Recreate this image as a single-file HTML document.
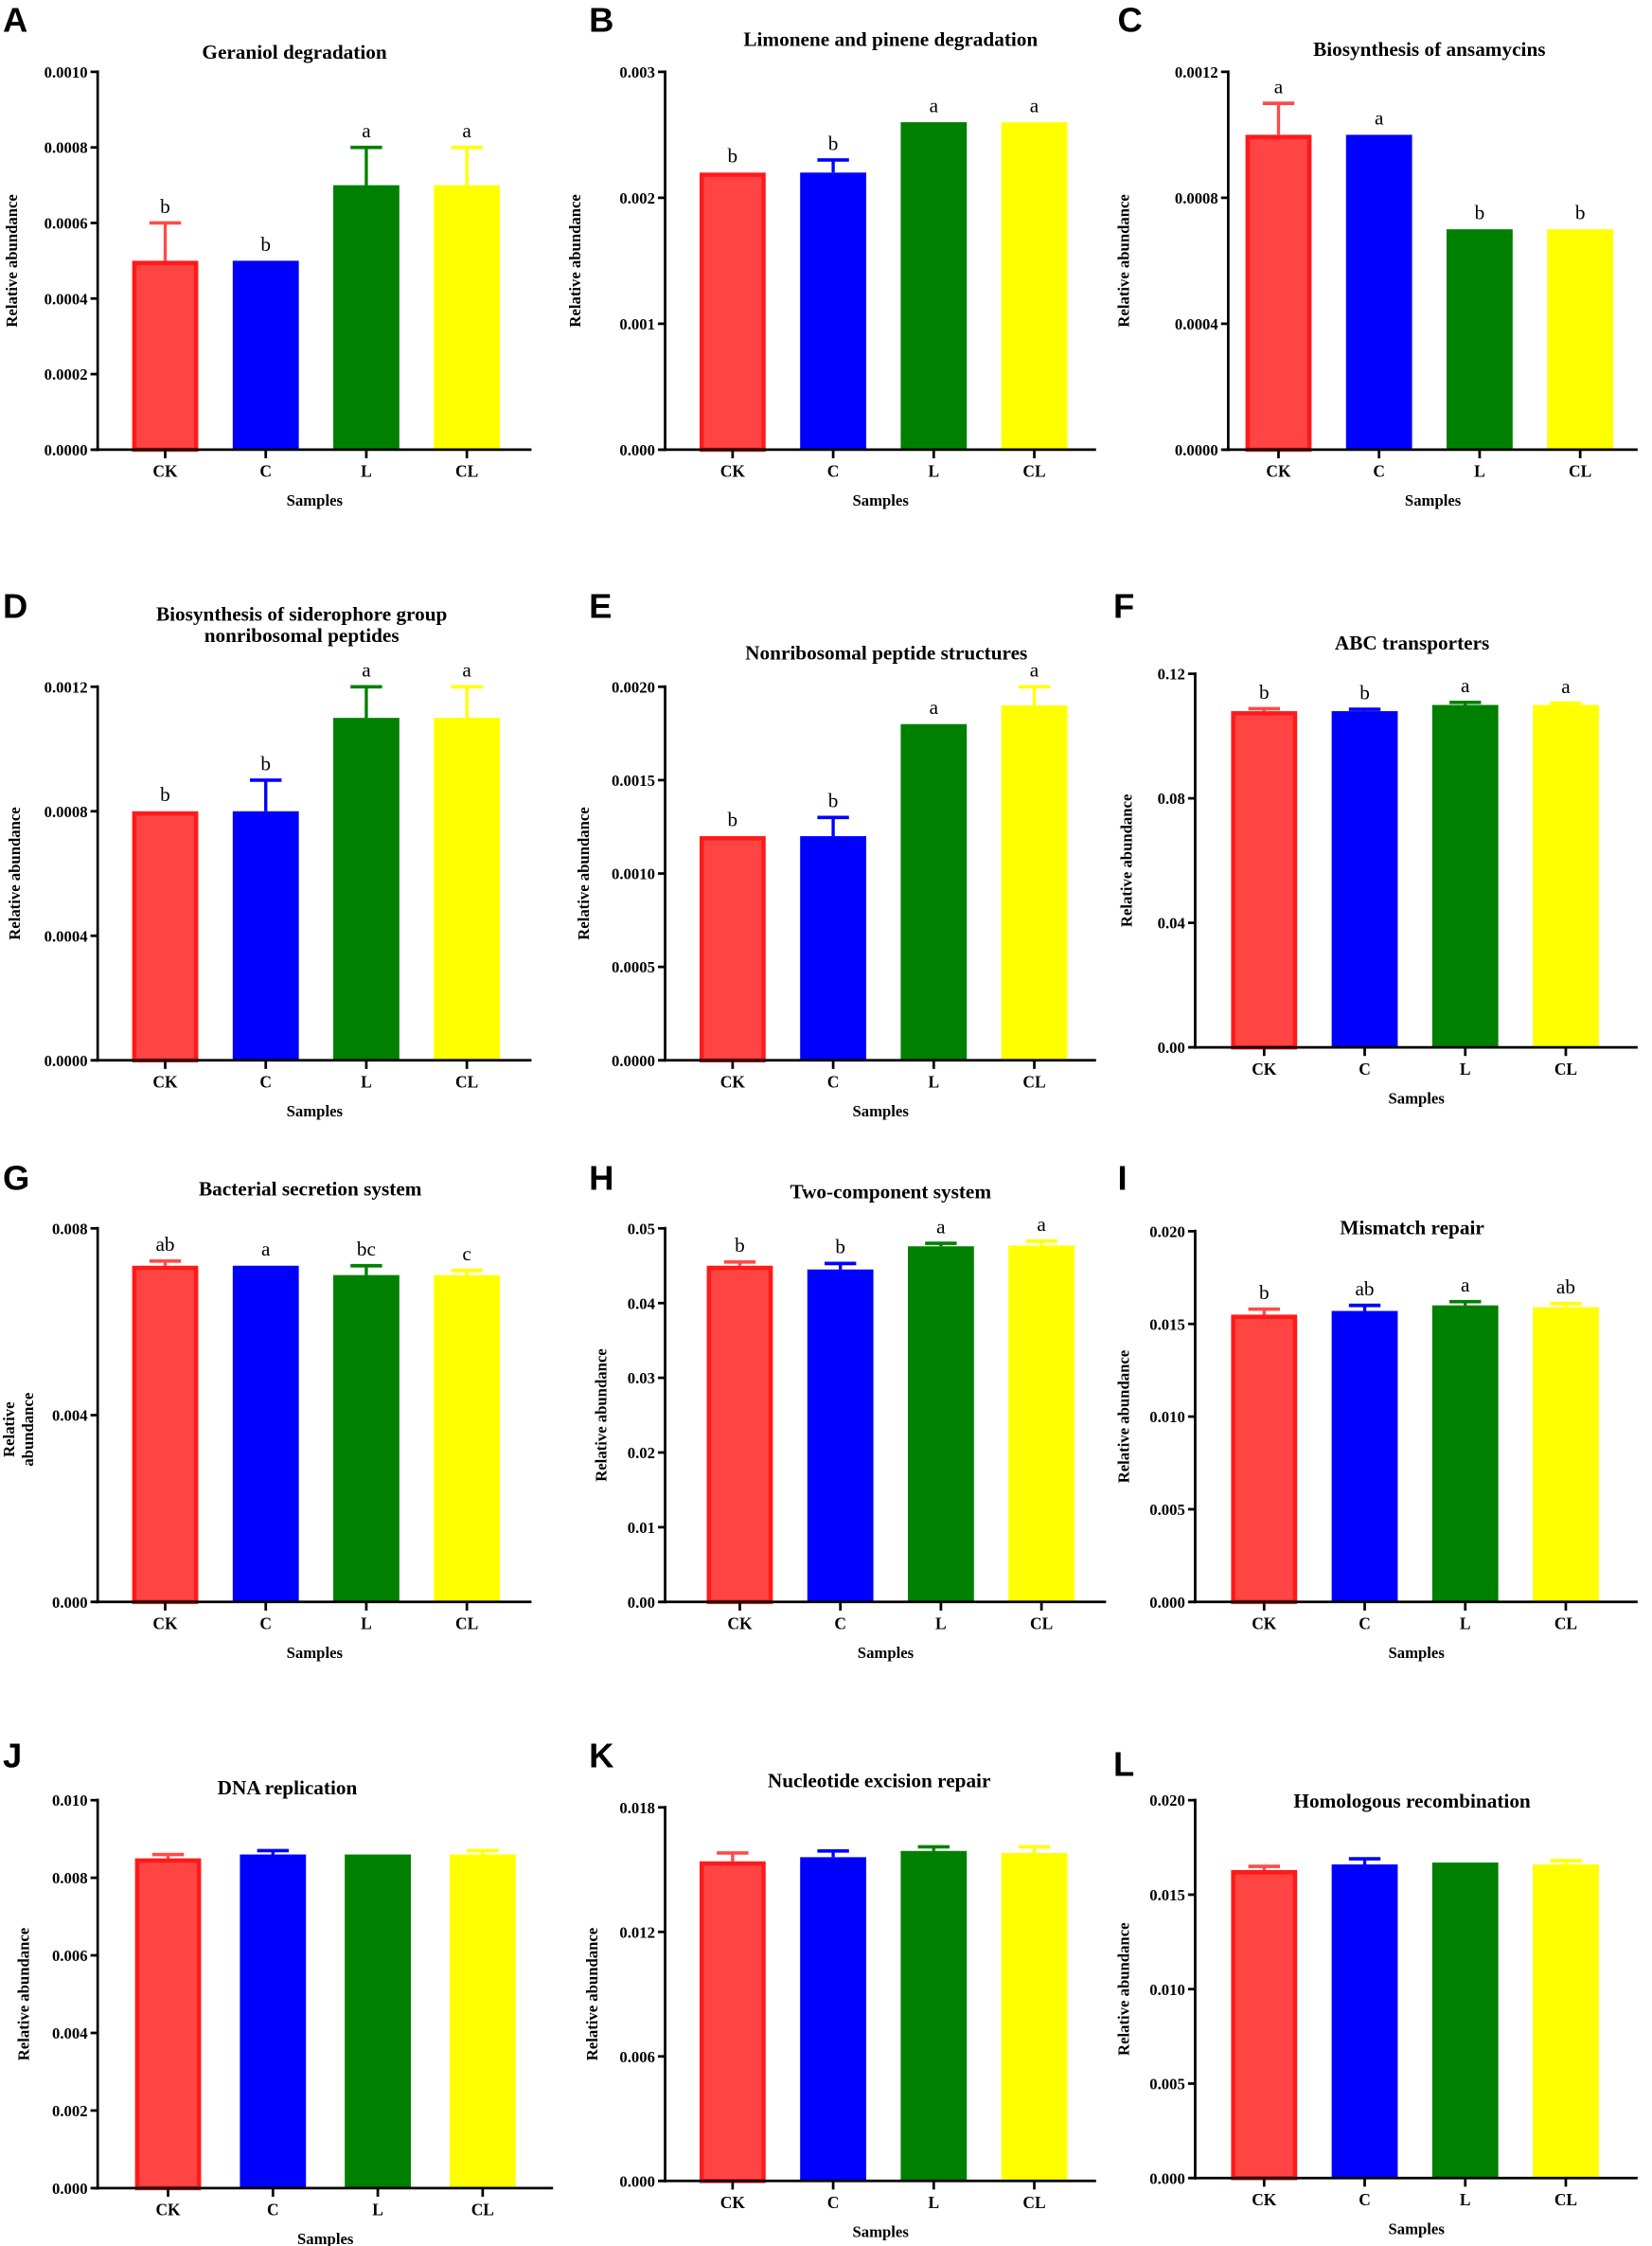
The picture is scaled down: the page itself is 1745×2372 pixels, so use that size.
<!DOCTYPE html>
<html><head><meta charset="utf-8"><style>
html,body{margin:0;padding:0;background:#fff}
svg{display:block}
text{font-family:"Liberation Serif",serif;font-weight:bold;fill:#000}
.letter{font-family:"Liberation Sans",sans-serif;font-size:24px}
</style></head><body>
<svg id="fig" width="1745" height="2372" viewBox="0 0 1150 1563.3" preserveAspectRatio="none" xmlns="http://www.w3.org/2000/svg"></svg>
<script>
const categories = ["CK","C","L","CL"];
const colors = ["#ff4444","#0000ff","#008000","#ffff00"];
const errColors = ["#ff4a4a","#0000ff","#008000","#ffff00"];

const valuesA=[0.0005,0.0005,0.0007,0.0007]; const errorsA=[0.0001,0,0.0001,0.0001]; const lettersA=["b","b","a","a"];
const ticksA=[0,0.0002,0.0004,0.0006,0.0008,0.0010]; const tickLabelsA=["0.0000","0.0002","0.0004","0.0006","0.0008","0.0010"];
const valuesB=[0.0022,0.0022,0.0026,0.0026]; const errorsB=[0,0.0001,0,0]; const lettersB=["b","b","a","a"];
const ticksB=[0,0.001,0.002,0.003]; const tickLabelsB=["0.000","0.001","0.002","0.003"];
const valuesC=[0.0010,0.0010,0.0007,0.0007]; const errorsC=[0.0001,0,0,0]; const lettersC=["a","a","b","b"];
const ticksC=[0,0.0004,0.0008,0.0012]; const tickLabelsC=["0.0000","0.0004","0.0008","0.0012"];
const valuesD=[0.0008,0.0008,0.0011,0.0011]; const errorsD=[0,0.0001,0.0001,0.0001]; const lettersD=["b","b","a","a"];
const ticksD=[0,0.0004,0.0008,0.0012]; const tickLabelsD=["0.0000","0.0004","0.0008","0.0012"];
const valuesE=[0.0012,0.0012,0.0018,0.0019]; const errorsE=[0,0.0001,0,0.0001]; const lettersE=["b","b","a","a"];
const ticksE=[0,0.0005,0.0010,0.0015,0.0020]; const tickLabelsE=["0.0000","0.0005","0.0010","0.0015","0.0020"];
const valuesF=[0.108,0.108,0.110,0.110]; const errorsF=[0.0008,0.0006,0.0008,0.0006]; const lettersF=["b","b","a","a"];
const ticksF=[0,0.04,0.08,0.12]; const tickLabelsF=["0.00","0.04","0.08","0.12"];
const valuesG=[0.0072,0.0072,0.0070,0.0070]; const errorsG=[0.0001,0,0.0002,0.0001]; const lettersG=["ab","a","bc","c"];
const ticksG=[0,0.004,0.008]; const tickLabelsG=["0.000","0.004","0.008"];
const valuesH=[0.045,0.0445,0.0476,0.0477]; const errorsH=[0.0005,0.0008,0.0004,0.0006]; const lettersH=["b","b","a","a"];
const ticksH=[0,0.01,0.02,0.03,0.04,0.05]; const tickLabelsH=["0.00","0.01","0.02","0.03","0.04","0.05"];
const valuesI=[0.0155,0.0157,0.0160,0.0159]; const errorsI=[0.0003,0.0003,0.0002,0.0002]; const lettersI=["b","ab","a","ab"];
const ticksI=[0,0.005,0.010,0.015,0.020]; const tickLabelsI=["0.000","0.005","0.010","0.015","0.020"];
const valuesJ=[0.0085,0.0086,0.0086,0.0086]; const errorsJ=[0.0001,0.0001,0,0.0001]; const lettersJ=["","","",""];
const ticksJ=[0,0.002,0.004,0.006,0.008,0.010]; const tickLabelsJ=["0.000","0.002","0.004","0.006","0.008","0.010"];
const valuesK=[0.0154,0.0156,0.0159,0.0158]; const errorsK=[0.0004,0.0003,0.0002,0.0003]; const lettersK=["","","",""];
const ticksK=[0,0.006,0.012,0.018]; const tickLabelsK=["0.000","0.006","0.012","0.018"];
const valuesL=[0.0163,0.0166,0.0167,0.0166]; const errorsL=[0.0002,0.0003,0,0.0002]; const lettersL=["","","",""];
const ticksL=[0,0.005,0.010,0.015,0.020]; const tickLabelsL=["0.000","0.005","0.010","0.015","0.020"];

// layout (positions only)
const panels = [
 {id:"A",lx:2,ly:22,title:["Geraniol degradation"],tx:205,ty:41,ax:68,top:50,bot:313,xend:370,x0:115,step:70,ylx:12,v:valuesA,e:errorsA,l:lettersA,t:ticksA,tl:tickLabelsA},
 {id:"B",lx:410,ly:22,title:["Limonene and pinene degradation"],tx:620,ty:32,ax:463,top:50,bot:313,xend:763,x0:510,step:70,ylx:404,v:valuesB,e:errorsB,l:lettersB,t:ticksB,tl:tickLabelsB},
 {id:"C",lx:778,ly:22,title:["Biosynthesis of ansamycins"],tx:995,ty:39,ax:855,top:50,bot:313,xend:1140,x0:890,step:70,ylx:786,v:valuesC,e:errorsC,l:lettersC,t:ticksC,tl:tickLabelsC},
 {id:"D",lx:2,ly:430,title:["Biosynthesis of siderophore group","nonribosomal peptides"],tx:210,ty:432,ax:68,top:478,bot:738,xend:370,x0:115,step:70,ylx:14,v:valuesD,e:errorsD,l:lettersD,t:ticksD,tl:tickLabelsD},
 {id:"E",lx:410,ly:430,title:["Nonribosomal peptide structures"],tx:617,ty:459,ax:463,top:478,bot:738,xend:763,x0:510,step:70,ylx:410,v:valuesE,e:errorsE,l:lettersE,t:ticksE,tl:tickLabelsE},
 {id:"F",lx:775,ly:430,title:["ABC transporters"],tx:983,ty:452,ax:832,top:469,bot:729,xend:1140,x0:880,step:70,ylx:788,v:valuesF,e:errorsF,l:lettersF,t:ticksF,tl:tickLabelsF},
 {id:"G",lx:2,ly:828,title:["Bacterial secretion system"],tx:216,ty:832,ax:68,top:855,bot:1115,xend:370,x0:115,step:70,ylx:10,two:true,v:valuesG,e:errorsG,l:lettersG,t:ticksG,tl:tickLabelsG},
 {id:"H",lx:410,ly:828,title:["Two-component system"],tx:620,ty:834,ax:463,top:855,bot:1115,xend:770,x0:515,step:70,ylx:422,v:valuesH,e:errorsH,l:lettersH,t:ticksH,tl:tickLabelsH},
 {id:"I",lx:778,ly:828,title:["Mismatch repair"],tx:983,ty:859,ax:832,top:857,bot:1115,xend:1140,x0:880,step:70,ylx:786,v:valuesI,e:errorsI,l:lettersI,t:ticksI,tl:tickLabelsI},
 {id:"J",lx:2,ly:1230,title:["DNA replication"],tx:200,ty:1249,ax:68,top:1253,bot:1523,xend:385,x0:117,step:73,ylx:20,v:valuesJ,e:errorsJ,l:lettersJ,t:ticksJ,tl:tickLabelsJ},
 {id:"K",lx:410,ly:1230,title:["Nucleotide excision repair"],tx:612,ty:1244,ax:463,top:1258,bot:1518,xend:763,x0:510,step:70,ylx:416,v:valuesK,e:errorsK,l:lettersK,t:ticksK,tl:tickLabelsK},
 {id:"L",lx:775,ly:1236,title:["Homologous recombination"],tx:983,ty:1258,ax:832,top:1253,bot:1516,xend:1140,x0:880,step:70,ylx:786,v:valuesL,e:errorsL,l:lettersL,t:ticksL,tl:tickLabelsL}
];
const NS="http://www.w3.org/2000/svg";
const svg=document.getElementById("fig");
function mk(tag,attrs,parent){const el=document.createElementNS(NS,tag);for(const k in attrs)el.setAttribute(k,attrs[k]);(parent||svg).appendChild(el);return el;}
panels.forEach(p=>{
  const g=mk("g",{});
  
  
  const maxT=p.t[p.t.length-1];
  const y=v=>p.bot-(v/maxT)*(p.bot-p.top);
  const x=i=>p.x0+i*p.step;
  const bw=46;
  let el=mk("text",{x:p.lx,y:p.ly,class:"letter"},g);el.textContent=p.id;
  
  
  p.title.forEach((t,k)=>{const tt=mk("text",{x:p.tx,y:p.ty+k*15,"text-anchor":"middle","font-size":"14"},g);tt.textContent=t;
    
    });
  p.v.forEach((v,i)=>{
    const cx=x(i);
    const yt=y(v), ye=y(v+p.e[i]);
    if(p.e[i]>0){
      mk("line",{x1:cx,x2:cx,y1:yt,y2:ye,stroke:errColors[i],"stroke-width":2.2},g);
      const cap=mk("line",{x1:cx-11,x2:cx+11,y1:ye,y2:ye,stroke:errColors[i],"stroke-width":2.4},g);
      
      
    }
    let r;
    if(i===0){r=mk("rect",{x:cx-bw/2+1.5,y:yt+1.5,width:bw-3,height:p.bot-yt-1.5,fill:"#ff4444",stroke:"#ff1a1a","stroke-width":3},g);}
    else{r=mk("rect",{x:cx-bw/2,y:yt,width:bw,height:p.bot-yt,fill:colors[i]},g);}
    
    
    if(p.l[i]){const lt=mk("text",{x:cx,y:ye-7,"text-anchor":"middle","font-size":"14",style:"font-weight:normal"},g);lt.textContent=p.l[i];
      
      }
    mk("line",{x1:cx,x2:cx,y1:p.bot,y2:p.bot+6,stroke:"#000","stroke-width":1.8},g);
    const cl=mk("text",{x:cx,y:p.bot+19,"text-anchor":"middle","font-size":"11.5"},g);cl.textContent=categories[i];
    
    
  });
  const ya=mk("line",{x1:p.ax,x2:p.ax,y1:p.top-1,y2:p.bot+1,stroke:"#000","stroke-width":1.8},g);
  
  
  const xa=mk("line",{x1:p.ax-4,x2:p.xend,y1:p.bot,y2:p.bot,stroke:"#000","stroke-width":1.8},g);
  
  
  p.t.forEach((t,k)=>{
    mk("line",{x1:p.ax-5,x2:p.ax,y1:y(t),y2:y(t),stroke:"#000","stroke-width":1.8},g);
    const tl=mk("text",{x:p.ax-7,y:y(t)+4,"text-anchor":"end","font-size":"11"},g);tl.textContent=p.tl[k];
    
    
  });
  const midX=(p.ax+p.xend)/2;
  const xl=mk("text",{x:midX,y:p.bot+39,"text-anchor":"middle","font-size":"11"},g);xl.textContent="Samples";
  
  
  const cy=(p.top+p.bot)/2;
  if(p.two){
    ["Relative","abundance"].forEach((s,k)=>{const yl=mk("text",{x:0,y:0,"text-anchor":"middle","font-size":"11",transform:`translate(${p.ylx+k*13},${cy+10}) rotate(-90)`},g);yl.textContent=s;
      
      });
  } else {
    const yl=mk("text",{x:0,y:0,"text-anchor":"middle","font-size":"11",transform:`translate(${p.ylx},${cy}) rotate(-90)`},g);yl.textContent="Relative abundance";
    
    
  }
});
</script>
</body></html>
